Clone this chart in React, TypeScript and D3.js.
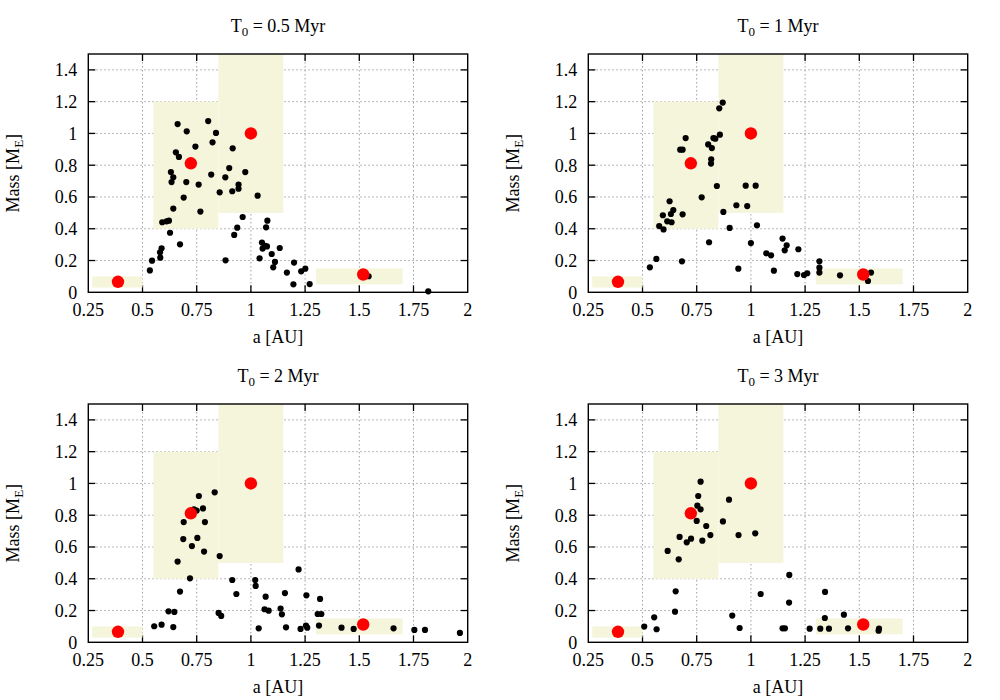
import React from "react";
import * as d3 from "d3";

// ---- data ----
const xTicks = [0.25, 0.5, 0.75, 1, 1.25, 1.5, 1.75, 2];
const xTickLabels = ["0.25", "0.5", "0.75", "1", "1.25", "1.5", "1.75", "2"];
const yTicks = [0, 0.2, 0.4, 0.6, 0.8, 1, 1.2, 1.4];
const yTickLabels = ["0", "0.2", "0.4", "0.6", "0.8", "1", "1.2", "1.4"];

const panelTitles = ["0.5 Myr", "1 Myr", "2 Myr", "3 Myr"];

// shaded boxes: [x0, x1, y0, y1]
const boxes = [
  [0.268, 0.5, 0.03, 0.1],
  [0.55, 0.85, 0.4, 1.2],
  [0.85, 1.15, 0.5, 1.5],
  [1.3, 1.7, 0.05, 0.15],
];

// solar system planets [a, mass]
const planets = [
  [0.387, 0.066],
  [0.723, 0.812],
  [1.0, 1.0],
  [1.518, 0.112],
];

const dots05 = [
  [0.662, 1.059], [0.704, 1.013], [0.803, 1.078], [0.839, 1.003], [0.823, 0.944],
  [0.744, 0.917], [0.916, 0.906], [0.654, 0.881], [0.668, 0.852], [0.9, 0.782],
  [0.631, 0.757], [0.974, 0.757], [0.817, 0.741], [0.642, 0.724], [0.882, 0.724],
  [0.634, 0.694], [0.702, 0.694], [0.943, 0.678], [0.759, 0.678], [0.943, 0.652],
  [0.914, 0.636], [0.856, 0.629], [1.031, 0.608], [0.69, 0.596], [0.642, 0.527],
  [0.767, 0.508], [0.962, 0.474], [1.076, 0.451], [0.591, 0.441], [0.611, 0.447],
  [0.622, 0.451], [1.07, 0.409], [0.937, 0.407], [0.627, 0.375], [0.923, 0.361],
  [0.673, 0.302], [1.051, 0.313], [1.065, 0.292], [1.054, 0.275], [1.074, 0.289],
  [1.133, 0.279], [0.588, 0.277], [0.581, 0.252], [0.582, 0.218], [1.096, 0.241],
  [1.04, 0.214], [0.544, 0.199], [0.883, 0.201], [1.199, 0.187], [1.111, 0.191],
  [1.103, 0.157], [1.251, 0.149], [1.232, 0.132], [1.166, 0.124], [0.534, 0.138],
  [1.196, 0.05], [1.271, 0.052], [1.543, 0.101], [1.818, 0.006],
];

const dots1 = [
  [0.87, 1.194], [0.854, 1.158], [0.857, 0.992], [0.699, 0.971], [0.827, 0.971],
  [0.836, 0.967], [0.803, 0.931], [0.82, 0.908], [0.674, 0.898], [0.685, 0.898],
  [0.817, 0.837], [0.816, 0.81], [0.843, 0.669], [0.976, 0.671], [1.022, 0.671],
  [0.773, 0.598], [0.625, 0.573], [0.933, 0.548], [0.983, 0.543], [0.642, 0.518],
  [0.873, 0.506], [0.594, 0.485], [0.631, 0.493], [0.685, 0.491], [0.614, 0.447],
  [0.634, 0.441], [0.577, 0.417], [0.597, 0.396], [0.902, 0.405], [1.028, 0.422],
  [1.146, 0.338], [1.165, 0.296], [1.156, 0.264], [0.807, 0.315], [1.0, 0.31],
  [1.219, 0.271], [1.071, 0.245], [1.093, 0.233], [0.564, 0.21], [0.682, 0.195],
  [1.316, 0.195], [1.316, 0.155], [1.316, 0.124], [0.534, 0.157], [0.942, 0.149],
  [1.106, 0.136], [1.214, 0.115], [1.245, 0.109], [1.26, 0.12], [1.411, 0.107],
  [1.554, 0.124], [1.54, 0.071],
];

const dots2 = [
  [0.833, 0.944], [0.76, 0.921], [0.737, 0.837], [0.75, 0.829], [0.779, 0.843],
  [0.69, 0.757], [0.788, 0.757], [0.688, 0.65], [0.753, 0.657], [0.728, 0.606],
  [0.784, 0.571], [0.856, 0.543], [0.662, 0.508], [0.719, 0.403], [0.914, 0.392],
  [1.02, 0.392], [1.022, 0.355], [0.673, 0.319], [0.933, 0.304], [1.157, 0.31],
  [1.068, 0.287], [1.256, 0.296], [1.319, 0.273], [1.22, 0.459], [0.62, 0.195],
  [0.647, 0.191], [1.063, 0.208], [1.082, 0.199], [1.137, 0.212], [1.143, 0.176],
  [0.851, 0.185], [0.863, 0.166], [1.308, 0.178], [1.325, 0.178], [0.554, 0.101],
  [0.588, 0.111], [0.642, 0.096], [1.036, 0.088], [1.162, 0.094], [1.229, 0.084],
  [1.254, 0.105], [1.26, 0.092], [1.314, 0.105], [1.418, 0.092], [1.474, 0.084],
  [1.658, 0.088], [1.754, 0.078], [1.803, 0.078], [1.964, 0.059],
];

const dots3 = [
  [0.768, 1.011], [0.757, 0.921], [0.753, 0.86], [0.768, 0.837], [0.899, 0.898],
  [0.75, 0.764], [0.871, 0.761], [0.794, 0.732], [0.813, 0.675], [0.943, 0.675],
  [1.02, 0.686], [0.671, 0.663], [0.724, 0.652], [0.704, 0.629], [0.776, 0.64],
  [0.616, 0.575], [0.667, 0.522], [1.177, 0.424], [0.653, 0.321], [1.045, 0.304],
  [1.342, 0.317], [1.176, 0.25], [0.65, 0.193], [0.914, 0.168], [1.429, 0.174],
  [0.554, 0.157], [1.341, 0.153], [0.508, 0.099], [0.565, 0.082], [0.948, 0.09],
  [1.146, 0.088], [1.157, 0.088], [1.271, 0.086], [1.32, 0.086], [1.36, 0.086],
  [1.448, 0.088], [1.591, 0.086], [1.589, 0.073],
];

const panelDots = [dots05, dots1, dots2, dots3];

// ---- layout ----
const PW = 379.4;
const PH = 238.3;
const origins = [
  [88.3, 54],
  [588.3, 54],
  [88.3, 404],
  [588.3, 404],
];
const FONT = "'Liberation Serif', 'Times New Roman', serif";
const FS = 18;

function Panel({ ox, oy, title, dots }: { ox: number; oy: number; title: string; dots: number[][] }) {
  const x = d3.scaleLinear().domain([0.25, 2]).range([0, PW]);
  const y = d3.scaleLinear().domain([0, 1.5]).range([PH, 0]);
  const tickLen = 7;
  return (
    <g transform={`translate(${ox},${oy})`}>
      {/* grid */}
      {xTicks.slice(1, -1).map((t) => (
        <line key={"gx" + t} x1={x(t)} x2={x(t)} y1={0} y2={PH} stroke="#a0a0a0" strokeWidth={1} strokeDasharray="1.5,2.5" />
      ))}
      {yTicks.slice(1).map((t) => (
        <line key={"gy" + t} x1={0} x2={PW} y1={y(t)} y2={y(t)} stroke="#a0a0a0" strokeWidth={1} strokeDasharray="1.5,2.5" />
      ))}
      {/* ticks */}
      {xTicks.slice(1, -1).map((t) => (
        <g key={"tx" + t}>
          <line x1={x(t)} x2={x(t)} y1={PH} y2={PH - tickLen} stroke="#000" strokeWidth={1.3} />
          <line x1={x(t)} x2={x(t)} y1={0} y2={tickLen} stroke="#000" strokeWidth={1.3} />
        </g>
      ))}
      {yTicks.slice(1).map((t) => (
        <g key={"ty" + t}>
          <line x1={0} x2={tickLen} y1={y(t)} y2={y(t)} stroke="#000" strokeWidth={1.3} />
          <line x1={PW} x2={PW - tickLen} y1={y(t)} y2={y(t)} stroke="#000" strokeWidth={1.3} />
        </g>
      ))}
      {/* shaded boxes */}
      {boxes.map((b, i) => (
        <rect key={"b" + i} x={x(b[0])} y={y(b[3])} width={x(b[1]) - x(b[0])} height={y(b[2]) - y(b[3])} fill="#f5f5dc" />
      ))}
      {/* border */}
      <rect x={0} y={0} width={PW} height={PH} fill="none" stroke="#000" strokeWidth={1.4} />
      {/* dots */}
      {dots.map((d, i) => (
        <circle key={"d" + i} cx={x(d[0])} cy={y(d[1])} r={3.1} fill="#000" />
      ))}
      {planets.map((p, i) => (
        <circle key={"p" + i} cx={x(p[0])} cy={y(p[1])} r={6.2} fill="#ff0000" />
      ))}
      {/* tick labels */}
      {xTicks.map((t, i) => (
        <text key={"lx" + t} x={x(t)} y={PH + 24} textAnchor="middle" fontFamily={FONT} fontSize={FS} fill="#000">
          {xTickLabels[i]}
        </text>
      ))}
      {yTicks.map((t, i) => (
        <text key={"ly" + t} x={-11} y={y(t)} dy="0.35em" textAnchor="end" fontFamily={FONT} fontSize={FS} fill="#000">
          {yTickLabels[i]}
        </text>
      ))}
      {/* axis labels */}
      <text x={PW / 2} y={PH + 51} textAnchor="middle" fontFamily={FONT} fontSize={FS} fill="#000">
        a [AU]
      </text>
      <text transform={`translate(${-69},${PH / 2}) rotate(-90)`} textAnchor="middle" fontFamily={FONT} fontSize={FS} fill="#000">
        Mass [M<tspan fontSize={13} dy={4}>E</tspan><tspan dy={-4}>]</tspan>
      </text>
      {/* title */}
      <text x={PW / 2} y={-22} textAnchor="middle" fontFamily={FONT} fontSize={FS} fill="#000">
        T<tspan fontSize={13} dy={4}>0</tspan><tspan dy={-4}> = {title}</tspan>
      </text>
    </g>
  );
}

export default function App() {
  return (
    <svg width={1000} height={700} style={{ position: "absolute", left: 0, top: 0, background: "#fff" }}>
      <rect width={1000} height={700} fill="#fff" />
      {origins.map((o, i) => (
        <Panel key={i} ox={o[0]} oy={o[1]} title={panelTitles[i]} dots={panelDots[i]} />
      ))}
    </svg>
  );
}
